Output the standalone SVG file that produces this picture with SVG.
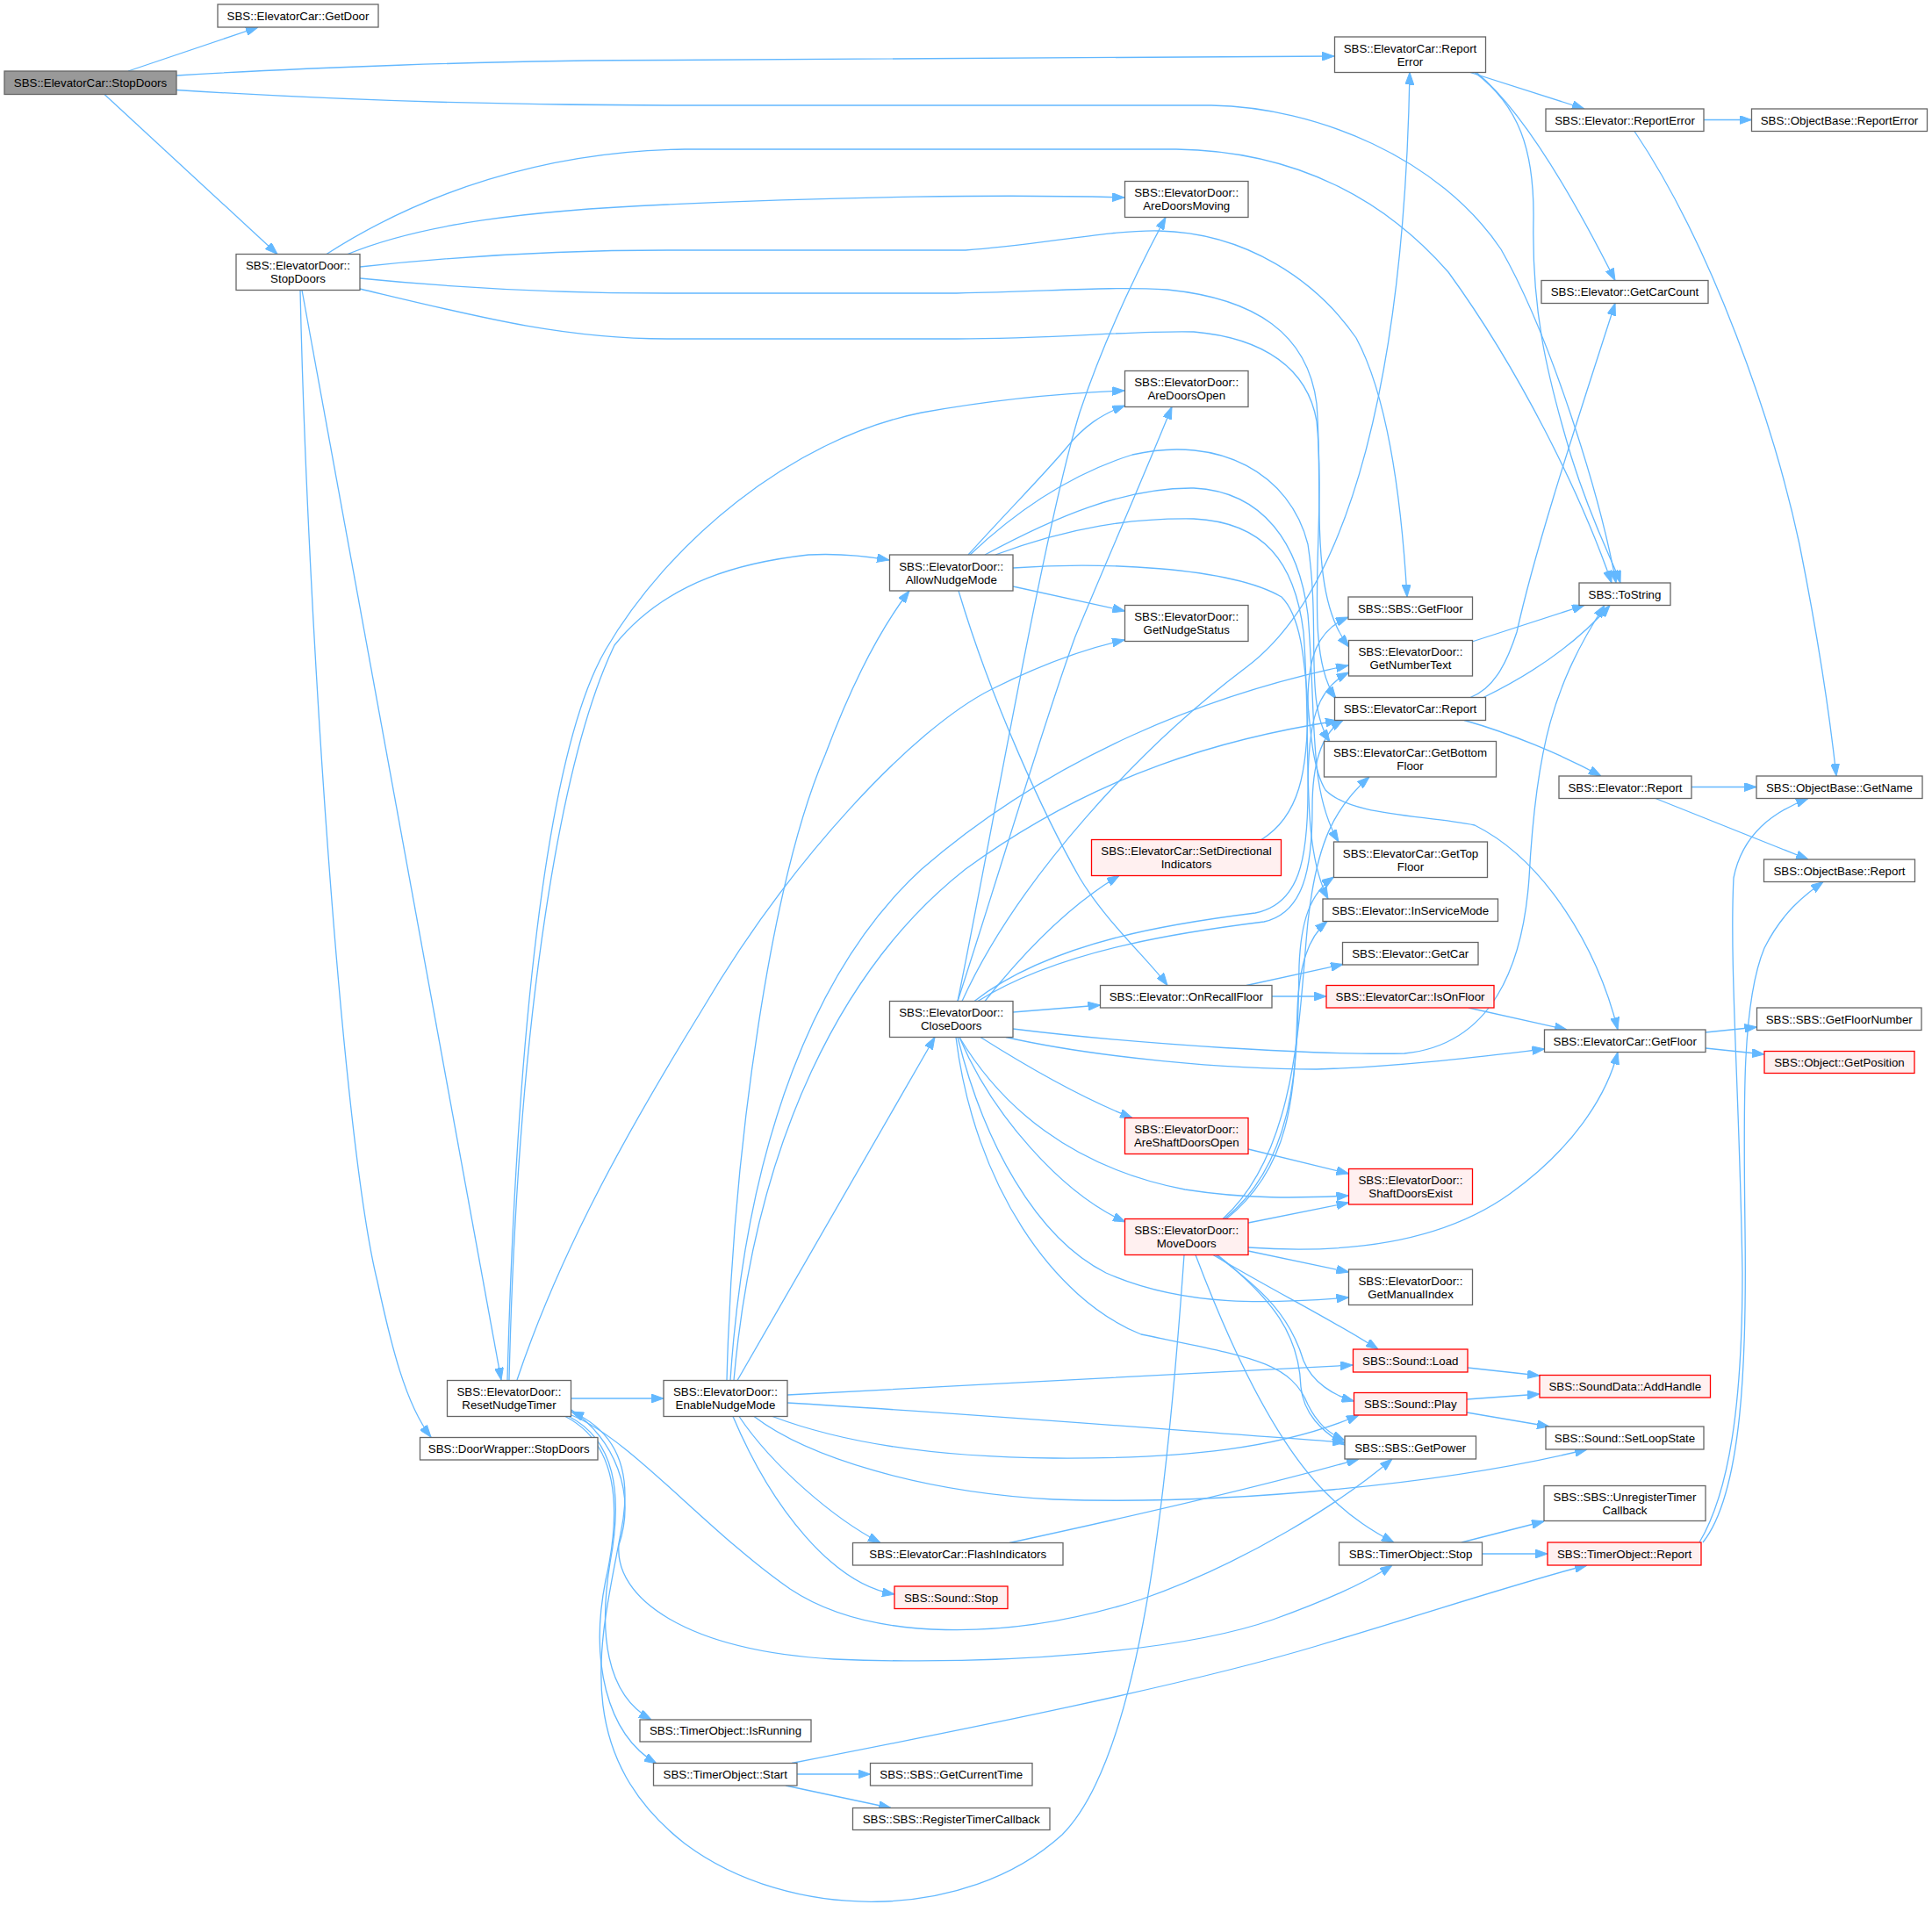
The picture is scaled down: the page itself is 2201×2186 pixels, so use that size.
<svg xmlns="http://www.w3.org/2000/svg" width="2201" height="2186" viewBox="0 0 2201 2186">
<style>
.n rect{fill:#ffffff;stroke:#666666;stroke-width:1.3}
.n.red rect{fill:#fff0f0;stroke:#ff0000}
.n.root rect{fill:#999999;stroke:#666666}
.n text{font-family:"Liberation Sans",Arial,Helvetica,sans-serif;font-size:13.3px;text-anchor:middle;fill:#000000}
#edges path{fill:none;stroke:#63b8ff;stroke-width:1.3;marker-end:url(#a)}
</style>
<defs>
<marker id="a" viewBox="0 0 14 10" refX="14" refY="5" markerWidth="14" markerHeight="10" markerUnits="userSpaceOnUse" orient="auto"><path d="M0,0 L14,5 L0,10 z" fill="#63b8ff" stroke="#63b8ff" stroke-width="1"/></marker>
</defs>
<rect x="0" y="0" width="2201" height="2186" fill="#ffffff"/>
<g id="edges">
<path d="M146,81 L294,31"/>
<path d="M201,86 C330,78 560,68.5 760,68.5 C1100,68.5 1350,66 1520,64"/>
<path d="M201,102.5 C400,115 600,120 760,120 L1380,120 C1500,122 1640,180 1710,284 C1765,380 1822,560 1841,664"/>
<path d="M119,107.5 L316,289.5"/>
<path d="M372,289.5 C480,220 620,172 780,170 L1340,170 C1480,172 1580,230 1650,310 C1730,420 1800,560 1836,664"/>
<path d="M396,289.5 C480,255 600,240 760,233 C950,224 1150,221 1281,225"/>
<path d="M410,304 C520,292 640,285 760,285 L1100,285 C1180,280 1260,262 1320,263 C1420,265 1500,320 1545,385 C1580,450 1596,560 1603,680"/>
<path d="M410,317 C520,328 640,334 760,334 L1090,334 C1200,332 1260,326 1330,330 C1430,340 1490,380 1500,460 C1508,560 1490,680 1537,737"/>
<path d="M410,329 C540,360 640,386 760,386 L1090,386 C1200,386 1300,376 1360,378 C1440,385 1490,420 1500,480 C1512,600 1482,740 1522,796"/>
<path d="M344,330.5 L571,1572"/>
<path d="M342,330.5 C350,700 390,1300 430,1460 C445,1530 462,1600 491,1637"/>
<path d="M580,1572 C590,1150 640,860 700,735 C760,660 850,640 921,632 C960,630 990,634 1013,638"/>
<path d="M578,1572 C588,1200 620,860 690,740 C760,620 900,500 1050,470 C1150,452 1230,447 1281,445"/>
<path d="M589,1572 C640,1420 720,1280 800,1150 C900,980 1040,830 1130,785 C1190,755 1240,738 1281,729"/>
<path d="M651,1593 L756,1593"/>
<path d="M651,1612 C720,1640 800,1740 900,1810 C990,1870 1150,1870 1300,1822 C1420,1780 1530,1710 1586,1662"/>
<path d="M651,1606 C700,1640 725,1700 705,1760 C700,1820 780,1880 950,1890 C1150,1898 1350,1880 1450,1845 C1520,1820 1560,1800 1586,1783"/>
<path d="M648,1613.5 C700,1640 710,1700 695,1780 C682,1860 690,1930 742,1959"/>
<path d="M644,1613.5 C705,1645 708,1720 690,1800 C672,1890 690,1975 748,2009"/>
<path d="M1349,1429.5 C1330,1700 1300,2000 1210,2090 C1100,2190 900,2190 780,2100 C640,1990 690,1850 710,1730 C720,1660 690,1625 651,1608"/>
<path d="M828,1572.5 C835,1300 880,1000 940,860 C970,780 1000,720 1036,673"/>
<path d="M832,1572.5 C850,1300 930,1100 1050,990 C1200,860 1380,790 1536,758"/>
<path d="M836,1572.5 C860,1300 960,1100 1100,990 C1250,880 1400,840 1524,821"/>
<path d="M840,1572.5 L1065,1181.5"/>
<path d="M897,1589 C1100,1578 1350,1565 1541,1555"/>
<path d="M897,1598 C1100,1610 1350,1630 1532,1643"/>
<path d="M880,1613.5 C950,1640 1050,1660 1200,1661 C1350,1662 1460,1650 1548,1612"/>
<path d="M859,1613.5 C920,1660 1050,1700 1200,1708 C1400,1715 1650,1690 1808,1651"/>
<path d="M842,1613.5 C880,1670 950,1730 1003,1757.5"/>
<path d="M835,1613.5 C880,1720 950,1805 1019,1816"/>
<path d="M1150,1757.5 C1300,1725 1450,1690 1548,1662"/>
<path d="M1091,1140.5 C1130,950 1190,600 1230,470 C1260,380 1300,300 1328,247.5"/>
<path d="M1091,1140.5 C1140,990 1190,820 1225,725 C1260,640 1300,550 1335,463.5"/>
<path d="M1096,1140.5 C1160,1000 1300,850 1420,760 C1540,670 1600,420 1606,82.5"/>
<path d="M1122,1140.5 C1170,1080 1220,1030 1275,997.5"/>
<path d="M1154,1153 L1253.5,1145"/>
<path d="M1154,1172 C1300,1190 1500,1202 1600,1200 C1700,1190 1735,1100 1742,1000 C1750,850 1770,780 1828,689.5"/>
<path d="M1146,1181.5 C1250,1205 1400,1218 1500,1218 C1600,1215 1700,1202 1759.5,1195"/>
<path d="M1117,1181.5 C1170,1215 1230,1250 1290,1273.5"/>
<path d="M1093,1181.5 C1140,1260 1220,1330 1350,1355 C1420,1366 1480,1365 1536.5,1362"/>
<path d="M1093,1181.5 C1130,1270 1210,1360 1282,1392"/>
<path d="M1091,1181.5 C1120,1300 1180,1410 1260,1450 C1350,1490 1450,1485 1536.5,1478"/>
<path d="M1089,1181.5 C1110,1350 1200,1480 1300,1520 C1420,1545 1470,1550 1490,1600 C1500,1620 1512,1632 1532,1641"/>
<path d="M1110,1140.5 C1200,1070 1350,1050 1430,1040 C1480,1030 1490,980 1490,900 C1490,820 1500,785 1536.5,766"/>
<path d="M1114,1140.5 C1210,1080 1360,1060 1440,1050 C1485,1040 1495,990 1495,920 C1495,870 1505,835 1530,820.5"/>
<path d="M1437,956.5 C1480,930 1490,880 1490,800 C1490,750 1500,718 1536,703"/>
<path d="M1103,632 C1150,580 1190,540 1215,510 C1235,485 1255,472 1281.5,462"/>
<path d="M1154,668 L1281.5,696"/>
<path d="M1092,673 C1130,800 1190,930 1230,1000 C1260,1050 1310,1095 1330,1122.5"/>
<path d="M1105,632 C1160,580 1220,540 1290,518 C1390,495 1470,540 1490,620 C1505,720 1485,800 1515,845"/>
<path d="M1122,632 C1200,590 1280,555 1360,556 C1440,560 1480,620 1490,700 C1500,820 1490,900 1525,959"/>
<path d="M1134,632 C1220,600 1290,590 1360,591 C1440,595 1475,640 1485,720 C1495,850 1480,960 1513,1024"/>
<path d="M1154,647 C1250,640 1400,645 1460,680 C1500,720 1480,850 1510,900 C1540,930 1620,928 1680,940 C1760,980 1820,1080 1843,1173"/>
<path d="M1420,1122.5 L1530,1098.5"/>
<path d="M1449,1135 L1511,1135"/>
<path d="M1673,1148 L1785,1173"/>
<path d="M1422,1309 L1536.5,1337"/>
<path d="M1422,1393 L1536.5,1370"/>
<path d="M1422,1425 L1536.5,1449"/>
<path d="M1422,1421 C1550,1430 1650,1410 1720,1360 C1790,1310 1830,1250 1843,1198.5"/>
<path d="M1382,1429.5 C1450,1470 1520,1505 1570,1537"/>
<path d="M1385,1429.5 C1440,1470 1470,1500 1485,1550 C1495,1575 1520,1590 1542.5,1596"/>
<path d="M1387,1429.5 C1450,1480 1480,1520 1482,1580 C1485,1610 1505,1630 1532,1646"/>
<path d="M1362,1429.5 C1400,1530 1450,1640 1510,1700 C1540,1730 1565,1745 1588,1757"/>
<path d="M1393,1388.5 C1480,1310 1480,1150 1490,1050 C1500,960 1520,920 1560,885"/>
<path d="M1395,1388.5 C1480,1320 1478,1200 1480,1100 C1482,1050 1492,1018 1519.5,999"/>
<path d="M1397,1388.5 C1470,1330 1475,1250 1478,1150 C1480,1100 1490,1068 1512,1049.5"/>
<path d="M1668,820.5 C1720,835 1780,860 1824,884"/>
<path d="M1690,794.5 C1730,775 1790,740 1834,689.5"/>
<path d="M1675,794.5 C1700,785 1715,760 1728,720 C1750,620 1800,470 1840,345.5"/>
<path d="M1677,731 L1805,689.5"/>
<path d="M1927,896.5 L2001,896.5"/>
<path d="M1886,909.5 L2060,979"/>
<path d="M1943,1176 L2001.5,1170"/>
<path d="M1943,1194 L2010,1201"/>
<path d="M1675,82.5 L1805,124"/>
<path d="M1682,82.5 C1740,130 1800,240 1840,319.5"/>
<path d="M1680,82.5 C1730,120 1748,170 1747,250 C1745,350 1760,420 1790,520 C1815,600 1838,640 1846,664"/>
<path d="M1941,136.5 L1995.5,136.5"/>
<path d="M1862,149.5 C1950,280 2020,480 2050,620 C2070,720 2085,820 2092,884"/>
<path d="M1665,1757 L1759,1733"/>
<path d="M1688.5,1770 L1763,1770"/>
<path d="M1936,1757 C1970,1700 1985,1600 1985,1450 C1982,1250 1970,1100 1975,1000 C1985,950 2020,925 2060,909.5"/>
<path d="M1940,1757 C1985,1700 1990,1550 1988,1400 C1986,1250 1985,1140 2010,1080 C2030,1040 2055,1020 2077,1004.5"/>
<path d="M908,2021 L991.5,2021"/>
<path d="M895,2034 L1015,2059.5"/>
<path d="M902,2008.5 C1100,1970 1350,1920 1500,1875 C1650,1830 1740,1800 1808,1783"/>
<path d="M1672,1558 L1754,1567"/>
<path d="M1671,1594 L1754,1588"/>
<path d="M1671,1609 L1765,1625"/>
</g>
<g id="n0" class="n root"><rect x="5" y="81" width="196" height="26.5"/><text x="103" y="98.9">SBS::ElevatorCar::StopDoors</text></g>
<g id="n1" class="n"><rect x="248" y="5" width="183" height="26"/><text x="339.5" y="22.7">SBS::ElevatorCar::GetDoor</text></g>
<g id="n2" class="n"><rect x="269" y="289.5" width="141" height="41"/><text x="339.5" y="307.2">SBS::ElevatorDoor::</text><text x="339.5" y="322.2">StopDoors</text></g>
<g id="n3" class="n"><rect x="1520.5" y="42" width="172" height="40.5"/><text x="1606.5" y="59.7">SBS::ElevatorCar::Report</text><text x="1606.5" y="74.7">Error</text></g>
<g id="n4" class="n"><rect x="1761" y="124" width="180" height="25.5"/><text x="1851" y="141.5">SBS::Elevator::ReportError</text></g>
<g id="n5" class="n"><rect x="1995.5" y="124" width="200" height="25.5"/><text x="2095.5" y="141.5">SBS::ObjectBase::ReportError</text></g>
<g id="n6" class="n"><rect x="1281.5" y="206.5" width="140.5" height="41"/><text x="1351.75" y="224.2">SBS::ElevatorDoor::</text><text x="1351.75" y="239.2">AreDoorsMoving</text></g>
<g id="n7" class="n"><rect x="1756" y="319.5" width="190" height="26"/><text x="1851" y="337.2">SBS::Elevator::GetCarCount</text></g>
<g id="n8" class="n"><rect x="1281.5" y="422.5" width="140.5" height="41"/><text x="1351.75" y="440.2">SBS::ElevatorDoor::</text><text x="1351.75" y="455.2">AreDoorsOpen</text></g>
<g id="n9" class="n"><rect x="1013.5" y="632" width="140.5" height="41"/><text x="1083.75" y="649.7">SBS::ElevatorDoor::</text><text x="1083.75" y="664.7">AllowNudgeMode</text></g>
<g id="n10" class="n"><rect x="1799" y="664" width="104" height="25.5"/><text x="1851" y="681.5">SBS::ToString</text></g>
<g id="n11" class="n"><rect x="1536" y="680" width="141.5" height="25.5"/><text x="1606.75" y="697.5">SBS::SBS::GetFloor</text></g>
<g id="n12" class="n"><rect x="1281.5" y="689.5" width="140.5" height="41"/><text x="1351.75" y="707.2">SBS::ElevatorDoor::</text><text x="1351.75" y="722.2">GetNudgeStatus</text></g>
<g id="n13" class="n"><rect x="1536.5" y="729.5" width="141" height="40.5"/><text x="1607" y="747.2">SBS::ElevatorDoor::</text><text x="1607" y="762.2">GetNumberText</text></g>
<g id="n14" class="n"><rect x="1520.5" y="794.5" width="172" height="26"/><text x="1606.5" y="812.2">SBS::ElevatorCar::Report</text></g>
<g id="n15" class="n"><rect x="1508.5" y="844.5" width="196" height="40.5"/><text x="1606.5" y="862.2">SBS::ElevatorCar::GetBottom</text><text x="1606.5" y="877.2">Floor</text></g>
<g id="n16" class="n"><rect x="1776" y="884" width="151" height="25.5"/><text x="1851.5" y="901.5">SBS::Elevator::Report</text></g>
<g id="n17" class="n"><rect x="2001" y="884" width="189" height="25.5"/><text x="2095.5" y="901.5">SBS::ObjectBase::GetName</text></g>
<g id="n18" class="n red"><rect x="1243.5" y="956.5" width="216" height="41"/><text x="1351.5" y="974.2">SBS::ElevatorCar::SetDirectional</text><text x="1351.5" y="989.2">Indicators</text></g>
<g id="n19" class="n"><rect x="1519.5" y="959" width="175" height="40.5"/><text x="1607" y="976.7">SBS::ElevatorCar::GetTop</text><text x="1607" y="991.7">Floor</text></g>
<g id="n20" class="n"><rect x="2009.5" y="979" width="172" height="25.5"/><text x="2095.5" y="996.5">SBS::ObjectBase::Report</text></g>
<g id="n21" class="n"><rect x="1507" y="1024" width="199.5" height="25.5"/><text x="1606.75" y="1041.5">SBS::Elevator::InServiceMode</text></g>
<g id="n22" class="n"><rect x="1529.5" y="1073.5" width="154.5" height="25.5"/><text x="1606.75" y="1091">SBS::Elevator::GetCar</text></g>
<g id="n23" class="n"><rect x="1253.5" y="1122.5" width="195.5" height="25.5"/><text x="1351.25" y="1140">SBS::Elevator::OnRecallFloor</text></g>
<g id="n24" class="n red"><rect x="1511" y="1122.5" width="191" height="25.5"/><text x="1606.5" y="1140">SBS::ElevatorCar::IsOnFloor</text></g>
<g id="n25" class="n"><rect x="1013.5" y="1140.5" width="140.5" height="41"/><text x="1083.75" y="1158.2">SBS::ElevatorDoor::</text><text x="1083.75" y="1173.2">CloseDoors</text></g>
<g id="n26" class="n"><rect x="2001.5" y="1148" width="187.5" height="25.5"/><text x="2095.25" y="1165.5">SBS::SBS::GetFloorNumber</text></g>
<g id="n27" class="n"><rect x="1759.5" y="1173" width="183.5" height="25.5"/><text x="1851.25" y="1190.5">SBS::ElevatorCar::GetFloor</text></g>
<g id="n28" class="n red"><rect x="2010" y="1197.5" width="171" height="25"/><text x="2095.5" y="1214.7">SBS::Object::GetPosition</text></g>
<g id="n29" class="n red"><rect x="1281.5" y="1273.5" width="140.5" height="41"/><text x="1351.75" y="1291.2">SBS::ElevatorDoor::</text><text x="1351.75" y="1306.2">AreShaftDoorsOpen</text></g>
<g id="n30" class="n red"><rect x="1536.5" y="1331.5" width="141" height="40.5"/><text x="1607" y="1349.2">SBS::ElevatorDoor::</text><text x="1607" y="1364.2">ShaftDoorsExist</text></g>
<g id="n31" class="n red"><rect x="1281.5" y="1388.5" width="140.5" height="41"/><text x="1351.75" y="1406.2">SBS::ElevatorDoor::</text><text x="1351.75" y="1421.2">MoveDoors</text></g>
<g id="n32" class="n"><rect x="1536.5" y="1446" width="141" height="40.5"/><text x="1607" y="1463.7">SBS::ElevatorDoor::</text><text x="1607" y="1478.7">GetManualIndex</text></g>
<g id="n33" class="n red"><rect x="1541.5" y="1537" width="130.5" height="26"/><text x="1606.75" y="1554.7">SBS::Sound::Load</text></g>
<g id="n34" class="n red"><rect x="1754" y="1566.5" width="194.5" height="25.5"/><text x="1851.25" y="1584">SBS::SoundData::AddHandle</text></g>
<g id="n35" class="n"><rect x="509.5" y="1572.5" width="141" height="41"/><text x="580" y="1590.2">SBS::ElevatorDoor::</text><text x="580" y="1605.2">ResetNudgeTimer</text></g>
<g id="n36" class="n"><rect x="756" y="1572.5" width="141" height="41"/><text x="826.5" y="1590.2">SBS::ElevatorDoor::</text><text x="826.5" y="1605.2">EnableNudgeMode</text></g>
<g id="n37" class="n red"><rect x="1542.5" y="1586.5" width="128.5" height="25.5"/><text x="1606.75" y="1604">SBS::Sound::Play</text></g>
<g id="n38" class="n"><rect x="1761" y="1625" width="180" height="26"/><text x="1851" y="1642.7">SBS::Sound::SetLoopState</text></g>
<g id="n39" class="n"><rect x="1532" y="1636" width="149.5" height="26"/><text x="1606.75" y="1653.7">SBS::SBS::GetPower</text></g>
<g id="n40" class="n"><rect x="478.5" y="1637.5" width="202.5" height="25.5"/><text x="579.75" y="1655">SBS::DoorWrapper::StopDoors</text></g>
<g id="n41" class="n"><rect x="1759" y="1692.5" width="184" height="40"/><text x="1851" y="1710">SBS::SBS::UnregisterTimer</text><text x="1851" y="1725">Callback</text></g>
<g id="n42" class="n"><rect x="971.5" y="1757.5" width="239.5" height="25.5"/><text x="1091.25" y="1775">SBS::ElevatorCar::FlashIndicators</text></g>
<g id="n43" class="n"><rect x="1525.5" y="1757" width="163" height="26"/><text x="1607" y="1774.7">SBS::TimerObject::Stop</text></g>
<g id="n44" class="n red"><rect x="1763" y="1757" width="175" height="26"/><text x="1850.5" y="1774.7">SBS::TimerObject::Report</text></g>
<g id="n45" class="n red"><rect x="1019" y="1807" width="129" height="25.5"/><text x="1083.5" y="1824.5">SBS::Sound::Stop</text></g>
<g id="n46" class="n"><rect x="729" y="1959" width="195" height="25"/><text x="826.5" y="1976.2">SBS::TimerObject::IsRunning</text></g>
<g id="n47" class="n"><rect x="744.5" y="2008.5" width="163.5" height="25.5"/><text x="826.25" y="2026">SBS::TimerObject::Start</text></g>
<g id="n48" class="n"><rect x="991.5" y="2008.5" width="184.5" height="25.5"/><text x="1083.75" y="2026">SBS::SBS::GetCurrentTime</text></g>
<g id="n49" class="n"><rect x="971.5" y="2059.5" width="224.5" height="25"/><text x="1083.75" y="2076.7">SBS::SBS::RegisterTimerCallback</text></g>
</svg>
